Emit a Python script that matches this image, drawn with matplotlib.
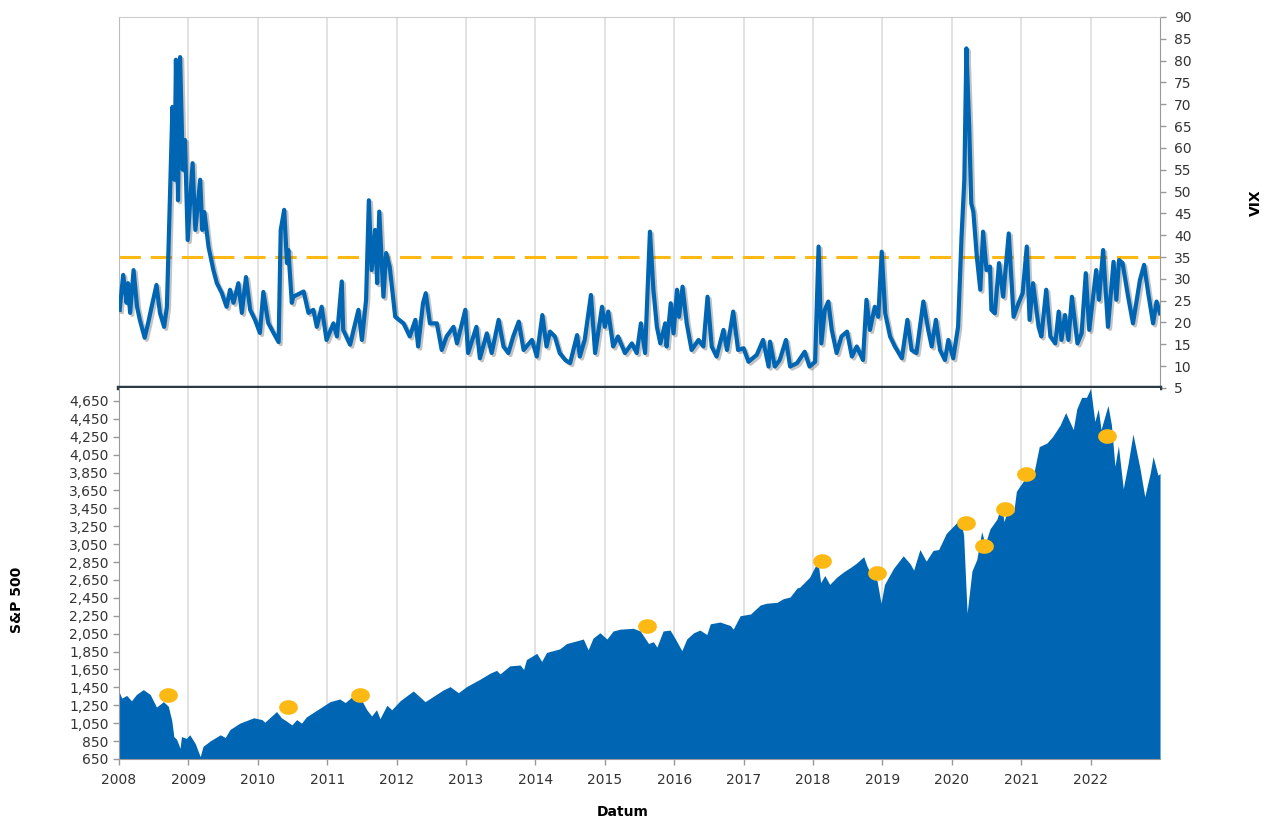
import numpy as np
import matplotlib
matplotlib.use('Agg')
import matplotlib.pyplot as plt
from matplotlib import patheffects
from matplotlib.path import Path
from matplotlib.ticker import FuncFormatter


# VIX (decimal year, index level)
vix_dates = [
    2008.01, 2008.06, 2008.11, 2008.13, 2008.16, 2008.21, 2008.26, 2008.30, 2008.37, 2008.42,
    2008.47, 2008.54, 2008.59, 2008.65, 2008.69, 2008.71, 2008.73, 2008.77, 2008.80, 2008.82,
    2008.85, 2008.88, 2008.92, 2008.95, 2008.99, 2009.06, 2009.10, 2009.17, 2009.20, 2009.23,
    2009.29, 2009.36, 2009.41, 2009.48, 2009.55, 2009.60, 2009.65, 2009.72, 2009.77, 2009.83,
    2009.89, 2009.96, 2010.03, 2010.08, 2010.15, 2010.22, 2010.30, 2010.33, 2010.38, 2010.42,
    2010.44, 2010.49, 2010.51, 2010.66, 2010.73, 2010.80, 2010.85, 2010.92, 2010.99, 2011.09,
    2011.14, 2011.21, 2011.23, 2011.33, 2011.38, 2011.45, 2011.50, 2011.56, 2011.60, 2011.64,
    2011.69, 2011.72, 2011.75, 2011.81, 2011.85, 2011.90, 2011.98, 2012.10, 2012.19, 2012.27,
    2012.31, 2012.38, 2012.42, 2012.48, 2012.58, 2012.65, 2012.72, 2012.82, 2012.87, 2012.99,
    2013.03, 2013.15, 2013.20, 2013.30, 2013.37, 2013.47, 2013.54, 2013.61, 2013.68, 2013.76,
    2013.83, 2013.95, 2014.02, 2014.10, 2014.16, 2014.21, 2014.28, 2014.35, 2014.43, 2014.50,
    2014.60, 2014.64, 2014.71, 2014.80, 2014.86, 2014.96, 2015.00, 2015.05, 2015.12, 2015.19,
    2015.29, 2015.39, 2015.46, 2015.52, 2015.58, 2015.65, 2015.70, 2015.75, 2015.80, 2015.87,
    2015.89, 2015.95, 2015.99, 2016.04, 2016.07, 2016.12, 2016.18, 2016.25, 2016.35, 2016.42,
    2016.48, 2016.54, 2016.61, 2016.71, 2016.76, 2016.85, 2016.92, 2017.00, 2017.07, 2017.19,
    2017.28, 2017.36, 2017.38, 2017.45, 2017.52, 2017.61, 2017.67, 2017.77, 2017.88, 2017.95,
    2018.03, 2018.08, 2018.12, 2018.17, 2018.22, 2018.27, 2018.34, 2018.41, 2018.49, 2018.56,
    2018.63, 2018.72, 2018.77, 2018.82, 2018.89, 2018.94, 2018.99, 2019.04, 2019.11, 2019.18,
    2019.28, 2019.36, 2019.42, 2019.49, 2019.59, 2019.66, 2019.71, 2019.77, 2019.83, 2019.90,
    2019.95, 2020.02, 2020.09, 2020.14, 2020.18, 2020.21, 2020.25, 2020.28, 2020.31, 2020.36,
    2020.41, 2020.45, 2020.50, 2020.55, 2020.57, 2020.62, 2020.68, 2020.74, 2020.82, 2020.89,
    2020.96, 2021.02, 2021.08, 2021.12, 2021.17, 2021.25, 2021.29, 2021.36, 2021.42, 2021.49,
    2021.54, 2021.58, 2021.63, 2021.68, 2021.73, 2021.81, 2021.87, 2021.93, 2021.98, 2022.08,
    2022.12, 2022.18, 2022.25, 2022.33, 2022.37, 2022.41, 2022.46, 2022.54, 2022.61, 2022.71,
    2022.77, 2022.83, 2022.90, 2022.95, 2023.00,
]
vix_vals = [
    22.9, 30.9, 24.5, 29.0, 22.2, 32.0, 23.6, 20.6, 16.5, 19.9,
    23.6, 28.6, 22.2, 19.0, 23.6, 35.0, 46.5, 69.4, 52.7, 80.2,
    48.0, 80.8, 55.0, 61.8, 38.9, 56.5, 41.2, 52.7, 41.2, 45.3,
    37.3, 32.0, 29.0, 26.8, 23.6, 27.5, 24.5, 29.0, 22.2, 30.4,
    22.9, 20.6, 17.6, 27.0, 19.9, 17.8, 15.5, 41.2, 45.8, 33.6,
    36.6, 24.5, 25.9, 27.1, 22.2, 22.9, 19.0, 23.6, 16.0, 19.8,
    16.8, 29.4, 18.3, 14.9, 18.3, 22.9, 16.0, 25.2, 48.0, 32.0,
    41.2, 29.0, 45.4, 25.9, 35.9, 32.8, 21.3, 19.8, 16.8, 20.6,
    14.5, 24.4, 26.7, 19.8, 19.8, 13.7, 16.8, 19.0, 15.2, 22.9,
    13.0, 19.0, 11.8, 17.5, 13.0, 20.6, 14.5, 13.0, 16.8, 20.2,
    13.7, 16.0, 12.2, 21.7, 14.5, 17.9, 16.8, 13.0, 11.4, 10.7,
    17.1, 12.2, 16.0, 26.3, 13.0, 23.6, 19.0, 22.5, 14.5, 16.8,
    13.0, 15.2, 13.0, 19.8, 13.0, 40.8, 27.5, 19.0, 15.2, 19.8,
    14.5, 24.4, 17.5, 27.5, 21.3, 28.2, 19.8, 13.7, 16.0, 14.5,
    25.9, 14.5, 12.2, 18.3, 13.7, 22.5, 13.7, 14.1, 11.0, 12.6,
    16.0, 9.9, 15.6, 9.9, 11.4, 16.0, 9.9, 10.7, 13.3, 9.9,
    11.0, 37.4, 15.2, 22.9, 24.8, 18.3, 13.0, 16.8, 17.9, 12.2,
    14.5, 11.4, 25.2, 18.3, 23.6, 21.3, 36.2, 22.1, 16.8, 14.5,
    11.8, 20.6, 13.7, 13.0, 24.8, 18.3, 14.5, 20.6, 13.7, 11.4,
    16.0, 11.8, 19.0, 39.7, 52.7, 82.8, 64.9, 47.3, 45.4, 35.1,
    27.5, 40.8, 32.0, 32.8, 22.9, 22.1, 33.6, 25.9, 40.4, 21.3,
    24.4, 26.7, 37.4, 20.6, 29.0, 19.0, 16.8, 27.5, 16.8, 15.2,
    22.5, 16.0, 21.7, 16.0, 25.9, 15.2, 17.5, 31.3, 18.3, 32.0,
    25.2, 36.6, 19.0, 33.9, 25.2, 34.3, 33.6, 25.9, 19.8, 29.7,
    33.2, 26.7, 19.8, 24.8, 22.1,
]

# S&P 500
spx_dates = [
    2008.00, 2008.04, 2008.11, 2008.18, 2008.25, 2008.35, 2008.45, 2008.54, 2008.64, 2008.71,
    2008.76, 2008.79, 2008.83, 2008.88, 2008.90, 2008.97, 2009.02, 2009.10, 2009.17, 2009.21,
    2009.31, 2009.46, 2009.53, 2009.60, 2009.74, 2009.84, 2009.94, 2010.06, 2010.10, 2010.27,
    2010.34, 2010.42, 2010.49, 2010.56, 2010.63, 2010.70, 2010.90, 2011.04, 2011.18, 2011.26,
    2011.38, 2011.50, 2011.57, 2011.64, 2011.71, 2011.76, 2011.86, 2011.93, 2012.05, 2012.24,
    2012.41, 2012.47, 2012.53, 2012.67, 2012.77, 2012.89, 2013.01, 2013.20, 2013.35, 2013.44,
    2013.49, 2013.63, 2013.78, 2013.83, 2013.87, 2014.02, 2014.09, 2014.16, 2014.35, 2014.45,
    2014.55, 2014.69, 2014.76, 2014.83, 2014.93, 2015.03, 2015.12, 2015.22, 2015.41, 2015.51,
    2015.63, 2015.70, 2015.75, 2015.84, 2015.94, 2016.01, 2016.11, 2016.18, 2016.28, 2016.37,
    2016.47, 2016.52, 2016.66, 2016.81, 2016.85, 2016.95, 2017.10, 2017.24, 2017.33, 2017.48,
    2017.57, 2017.67, 2017.77, 2017.81, 2017.95, 2018.07, 2018.11, 2018.17, 2018.24, 2018.34,
    2018.44, 2018.54, 2018.63, 2018.73, 2018.78, 2018.85, 2018.92, 2018.98, 2019.03, 2019.16,
    2019.30, 2019.40, 2019.45, 2019.54, 2019.63, 2019.73, 2019.81, 2019.92, 2020.07, 2020.12,
    2020.17, 2020.22, 2020.29, 2020.36, 2020.43, 2020.48, 2020.55, 2020.65, 2020.72, 2020.75,
    2020.81, 2020.89, 2020.93, 2021.07, 2021.17, 2021.26, 2021.37, 2021.45, 2021.56, 2021.64,
    2021.75, 2021.80, 2021.87, 2021.94, 2022.00, 2022.06, 2022.11, 2022.15, 2022.25, 2022.30,
    2022.35, 2022.40, 2022.47, 2022.54, 2022.61, 2022.71, 2022.78, 2022.86, 2022.90, 2022.97,
    2023.00,
]
spx_vals = [
    1402, 1330, 1360, 1300, 1370, 1425, 1370, 1230, 1290, 1240,
    1080, 900, 870, 770, 900, 880, 920, 820, 676, 790,
    850, 920, 890, 980, 1050, 1080, 1110, 1090, 1060, 1180,
    1110, 1070, 1030, 1090, 1050, 1120, 1220, 1290, 1320, 1280,
    1360, 1300, 1200, 1130, 1200, 1100, 1250, 1200, 1300, 1410,
    1290, 1320, 1350, 1420, 1458, 1390, 1460, 1540, 1610, 1640,
    1600, 1690, 1700, 1650, 1760, 1830, 1740, 1840, 1880, 1940,
    1960, 1990, 1870, 2000, 2060, 1990, 2080, 2100, 2110, 2080,
    1940, 1960, 1900, 2080, 2090, 2000, 1860, 1990, 2060, 2090,
    2040, 2160, 2180, 2140, 2100, 2250, 2270, 2370, 2390, 2400,
    2440, 2460, 2560, 2570, 2680, 2860, 2620, 2700, 2600, 2680,
    2740, 2790, 2840, 2910, 2800, 2700, 2650, 2390, 2600, 2780,
    2920, 2830, 2760, 2990, 2860, 2980, 2990, 3170, 3290, 3350,
    3150, 2280, 2750, 2880, 3190, 3050, 3220, 3330, 3500, 3300,
    3450, 3400, 3640, 3800, 3800, 4140, 4180, 4250, 4380, 4520,
    4330, 4560, 4690, 4690, 4790, 4420, 4560, 4330, 4600, 4380,
    3920, 4150, 3670, 3950, 4280, 3900, 3580, 3850, 4030, 3820,
    3840,
]

# points where VIX went above 35
signal_dates = [2008.71, 2010.43, 2011.47, 2015.61, 2018.13, 2018.92,
                2020.20, 2020.47, 2020.77, 2021.07, 2022.23]
signal_spx = [1365, 1227, 1365, 2140, 2862, 2731, 3290, 3030, 3440, 3834, 4262]

VIX_THRESHOLD = 35
years = list(range(2008, 2023))

BLUE = '#0066b3'
ORANGE = '#fdb913'
TEXT = '#333333'

fig = plt.figure(figsize=(12.66, 8.19), dpi=100)
ax_vix = fig.add_axes([0.0940, 0.5263, 0.8223, 0.4530])
ax_spx = fig.add_axes([0.0940, 0.0733, 0.8223, 0.4530], sharex=ax_vix)

# --- top panel: VIX
ax_vix.plot(vix_dates, vix_vals, color=BLUE, lw=3.0, solid_joinstyle='round',
            zorder=3,
            path_effects=[patheffects.SimpleLineShadow(offset=(1.5, -1.5),
                                                       shadow_color='#555555',
                                                       alpha=0.35),
                          patheffects.Normal()])
ax_vix.axhline(VIX_THRESHOLD, color=ORANGE, lw=2.2, dashes=(7, 3.2), zorder=2)
ax_vix.set_ylim(5, 90)
ax_vix.set_yticks(range(5, 91, 5))
ax_vix.yaxis.tick_right()
ax_vix.yaxis.set_label_position('right')
ax_vix.set_ylabel('VIX', fontsize=10, fontweight='bold', color='black')
ax_vix.yaxis.set_label_coords(1.0855, 0.5)
ax_vix.tick_params(axis='x', bottom=False, labelbottom=False)
ax_vix.tick_params(axis='y', colors='#999999', labelcolor=TEXT, labelsize=10,
                   length=4, width=1, pad=6)

ax_vix.spines['top'].set_color('#cccccc')
ax_vix.spines['left'].set_color('#bbbbbb')
ax_vix.spines['right'].set_color('#999999')
ax_vix.spines['bottom'].set_color('#2b3a44')
ax_vix.spines['bottom'].set_linewidth(3.2)
ax_vix.spines['bottom'].set_zorder(5)

# --- bottom panel: S&P 500
ax_spx.fill_between(spx_dates, spx_vals, 650, color=BLUE, lw=0, zorder=2)

ellipse_t = np.linspace(0, 2 * np.pi, 60)
ellipse_marker = Path(np.column_stack([np.cos(ellipse_t), 0.78 * np.sin(ellipse_t)]))
ax_spx.plot(signal_dates, signal_spx, ls='none', marker=ellipse_marker,
            markersize=13.5, color=ORANGE, markeredgewidth=0, zorder=4)

ax_spx.set_ylim(650, 4795)
ax_spx.set_yticks(range(650, 4651, 200))
ax_spx.yaxis.set_major_formatter(FuncFormatter(lambda v, _: f'{v:,.0f}'))
ax_spx.set_ylabel('S&P 500', fontsize=10, fontweight='bold', color='black')
ax_spx.yaxis.set_label_coords(-0.0913, 0.43)
ax_spx.set_xlim(2008, 2023)
ax_spx.set_xticks(years)
ax_spx.set_xticklabels([str(y) for y in years])
ax_spx.set_xlabel('Datum', fontsize=10, fontweight='bold', color='black')
ax_spx.xaxis.set_label_coords(0.484, -0.124)
ax_spx.tick_params(axis='both', colors='#999999', labelcolor=TEXT, labelsize=10,
                   length=4, width=1)
ax_spx.tick_params(axis='x', pad=6)
ax_spx.spines['top'].set_visible(False)
ax_spx.spines['right'].set_visible(False)
ax_spx.spines['left'].set_color('#999999')
ax_spx.spines['bottom'].set_color('#999999')

# yearly gridlines in both panels
for ax in (ax_vix, ax_spx):
    ax.set_axisbelow(True)
    ax.xaxis.grid(True, color='#dddddd', lw=1.2, zorder=0)
    ax.yaxis.grid(False)

fig.savefig('out.png', dpi=100, facecolor='white')
